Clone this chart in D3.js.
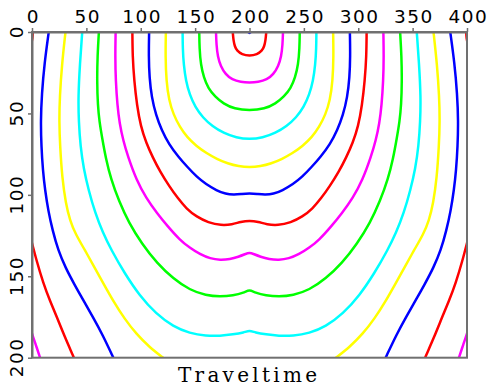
<!DOCTYPE html>
<html>
<head>
<meta charset="utf-8">
<script src="https://cdn.jsdelivr.net/npm/d3@7/dist/d3.min.js"></script>
<style>
  html, body { margin: 0; padding: 0; background: #ffffff; }
  svg { display: block; }
</style>
</head>
<body>
<svg id="chart" width="487" height="387"></svg>
<script>
// ---------------- DATA ----------------
const xTicks = [0, 50, 100, 150, 200, 250, 300, 350, 400];
const yTicks = [0, 50, 100, 150, 200];
const xTitle = "Traveltime";

// colour of each contour level (level index modulo 6)
const levelColors = ["#0000ff", "#ff0000", "#ff00ff", "#00ff00", "#00ffff", "#ffff00"];

// contour polylines [x, depth]
const c0 = [[198.8,0],[200,0.9],[201.2,0]];
const c1 = [[184.6,0],[185.2,5],[186.5,9],[188.5,11.5],[193,13.8],[200,14.7],[207,13.8],[211.5,11.5],[213.5,9],[214.8,5],[215.4,0]];
const c2 = [[169.2,0],[169.6,8],[170.8,15],[173.5,21],[178,26],[184,29.3],[192,30.8],[200,31.1],[208,30.8],[216,29.3],[222,26],[226.5,21],[229.2,15],[230.4,8],[230.8,0]];
const c3 = [[153.8,0],[154,10],[155.2,20],[158,28],[162,34.5],[168.3,39.7],[176,44],[186,47.2],[200,48.3],[214,47.2],[224,44],[231.7,39.7],[238,34.5],[242,28],[244.8,20],[246,10],[246.2,0]];
const c4 = [[138.5,0],[138.6,10],[139.5,20],[141.5,30],[145,38.5],[150,46],[157,52.5],[166,58],[176,62],[188,65],[200,65.9],[212,65],[224,62],[234,58],[243,52.5],[250,46],[255,38.5],[258.5,30],[260.5,20],[261.4,10],[261.5,0]];
const c5 = [[123.1,0],[122.7,15],[123.5,30],[126,42],[130,50.5],[136,58.5],[142.5,64.5],[151,70],[160.6,74.5],[170,78],[180,80.8],[190,82.5],[200,83.1],[210,82.5],[220,80.8],[230,78],[239.4,74.5],[249,70],[257.5,64.5],[264,58.5],[270,50.5],[274,42],[276.5,30],[277.3,15],[276.9,0]];
const c6 = [[107.7,0],[107.3,15],[108,28],[110,40],[114,51],[119.2,60.2],[126,69],[134.6,76.6],[143,83],[151.4,88.9],[160,93.5],[169.8,97.3],[178,99.5],[186,99.9],[193,99.4],[200,99],[207,99.4],[214,99.9],[222,99.5],[230.2,97.3],[240,93.5],[248.6,88.9],[257,83],[265.4,76.6],[274,69],[280.8,60.2],[286,51],[290,40],[292,28],[292.7,15],[292.3,0]];
const c7 = [[92.3,0],[92.5,15],[94,30],[96.5,45],[100,58],[105,68],[111,77],[118,86],[126,94.5],[134,102],[142,108.5],[151.4,113.5],[162,117],[174,118.8],[184,118.2],[192,116.5],[200,115.8],[208,116.5],[216,118.2],[226,118.8],[238,117],[248.6,113.5],[258,108.5],[266,102],[274,94.5],[282,86],[289,77],[295,68],[300,58],[303.5,45],[306,30],[307.5,15],[307.7,0]];
const c8 = [[76.9,0],[76.5,15],[77,30],[78.5,45],[80.5,56],[84,67],[88,76],[96,90.9],[105,102],[115,111.3],[125,119.5],[136,127.7],[145,132.5],[154.5,136.5],[164,139.2],[173,140],[182,139.5],[190,138],[196,136.4],[200,135.3],[204,136.4],[210,138],[218,139.5],[227,140],[236,139.2],[245.5,136.5],[255,132.5],[264,127.7],[275,119.5],[285,111.3],[295,102],[304,90.9],[312,76],[316,67],[319.5,56],[321.5,45],[323,30],[323.5,15],[323.1,0]];
const c9 = [[61.5,0],[60.2,15],[59.8,30],[60.5,45],[62,55],[64.5,65],[68,78],[72.5,90],[80,104],[89,117],[101,130],[115,142],[130,151.5],[145,158.4],[160,161.8],[173,162.5],[185,161.8],[195,160],[200,158.2],[205,160],[215,161.8],[227,162.5],[240,161.8],[255,158.4],[270,151.5],[285,142],[299,130],[311,117],[320,104],[327.5,90],[332,78],[335.5,65],[338,55],[339.5,45],[340.2,30],[339.8,15],[338.5,0]];
const c10 = [[46.2,0],[44,20],[42.5,40],[43,55],[44.5,70],[47.5,84],[52,97],[58,111],[65,123],[73,134],[85,148],[99,162],[114,173],[130,181],[145,185],[160,186.6],[173,186.6],[185,185.7],[195,184.5],[200,183.2],[205,184.5],[215,185.7],[227,186.6],[240,186.6],[255,185],[270,181],[286,173],[301,162],[315,148],[327,134],[335,123],[342,111],[348,97],[352.5,84],[355.5,70],[357,55],[357.5,40],[356,20],[353.8,0]];
const c11a = [[30.8,0],[27.5,20],[25.5,40],[25,55],[25.8,70],[27.8,90],[31,105],[35,116],[40,124],[48.7,134],[57,144],[65.6,154.3],[75,165.5],[85,176],[96,185.5],[108,193.5],[120.5,200],[126,203]];
const c11b = [[369.2,0],[372.5,20],[374.5,40],[375,55],[374.2,70],[372.2,90],[369,105],[365,116],[360,124],[351.3,134],[343,144],[334.4,154.3],[325,165.5],[315,176],[304,185.5],[292,193.5],[279.5,200],[274,203]];
const c12a = [[15.4,0],[11.5,19],[9,38],[8,55],[8.6,70],[10,85],[12,97],[15,110],[19,122],[24,134],[31,145],[39,155],[47,164.5],[56,175],[65,186],[74.8,200],[77,203]];
const c12b = [[384.6,0],[388.5,19],[391,38],[392,55],[391.4,70],[390,85],[388,97],[385,110],[381,122],[376,134],[369,145],[361,155],[353,164.5],[344,175],[335,186],[325.2,200],[323,203]];
const c13a = [[0.8,-1],[0.5,4],[-1,8]];
const c13b = [[-3,122],[0,129.5],[4,140],[10.4,154.3],[16.5,165],[22.7,174.8],[30,187],[38.6,200],[41,204]];
const c13c = [[399.2,-1],[399.5,4],[401,8]];
const c13d = [[403,122],[400,129.5],[396,140],[389.6,154.3],[383.5,165],[377.3,174.8],[370,187],[361.4,200],[359,204]];
const c14a = [[-2,180],[0,185.5],[3.5,192],[7.4,200],[9,203]];
const c14b = [[402,180],[400,185.5],[396.5,192],[392.6,200],[391,203]];

const contourLevels = [0,1,2,3,4,5,6,7,8,9,10,11,11,12,12,13,13,13,13,14,14];
const contourLines  = [c0,c1,c2,c3,c4,c5,c6,c7,c8,c9,c10,c11a,c11b,c12a,c12b,c13a,c13b,c13c,c13d,c14a,c14b];

// ---------------- LAYOUT ----------------
const plot = { left: 32, right: 467, top: 32, bottom: 357.7 };

const svg = d3.select("#chart");
const x = d3.scaleLinear().domain([0, 400]).range([plot.left, plot.right]);
const y = d3.scaleLinear().domain([0, 200]).range([plot.top, plot.bottom]);

svg.append("defs").append("clipPath").attr("id", "clip")
  .append("rect")
  .attr("x", plot.left).attr("y", plot.top)
  .attr("width", plot.right - plot.left).attr("height", plot.bottom - plot.top);

const line = d3.line()
  .x(d => x(d[0]))
  .y(d => y(d[1]))
  .curve(d3.curveBasis);

const g = svg.append("g").attr("clip-path", "url(#clip)");
g.selectAll("path.contour")
  .data(contourLines.map((pts, i) => ({ pts, level: contourLevels[i] })))
  .join("path")
  .attr("class", "contour")
  .attr("d", d => line(d.pts))
  .attr("fill", "none")
  .attr("stroke", d => levelColors[d.level % 6])
  .attr("stroke-width", 2.5)
  .attr("stroke-linejoin", "round")
  .attr("stroke-linecap", "round");

// frame
const axisColor = "#707070";
svg.append("rect")
  .attr("x", plot.left).attr("y", plot.top)
  .attr("width", plot.right - plot.left).attr("height", plot.bottom - plot.top)
  .attr("fill", "none").attr("stroke", axisColor).attr("stroke-width", 2);

const tickFont = t => t
  .attr("fill", "#000")
  .style("font-family", "'DejaVu Sans', sans-serif")
  .style("font-size", "18.5px")
  .style("letter-spacing", "1.5px");

// top axis
const xAxis = svg.append("g")
  .attr("transform", `translate(0,${plot.top})`)
  .call(d3.axisTop(x).tickValues(xTicks).tickFormat(d3.format("d")).tickSize(4).tickSizeOuter(0).tickPadding(5));
xAxis.select(".domain").attr("stroke", axisColor).attr("stroke-width", 2);
xAxis.selectAll(".tick line").attr("stroke", axisColor).attr("stroke-width", 1.5);
xAxis.selectAll(".tick text").attr("x", 0.8).call(tickFont);

// left axis (rotated labels)
const yAxis = svg.append("g")
  .attr("transform", `translate(${plot.left},0)`)
  .call(d3.axisLeft(y).tickValues(yTicks).tickFormat(d3.format("d")).tickSize(4).tickSizeOuter(0));
yAxis.select(".domain").attr("stroke", axisColor).attr("stroke-width", 2);
yAxis.selectAll(".tick line").attr("stroke", axisColor).attr("stroke-width", 1.5);
yAxis.selectAll(".tick text")
  .attr("x", null).attr("dy", null)
  .attr("text-anchor", "middle")
  .attr("transform", "translate(-9,0) rotate(-90) translate(0.8,0)")
  .call(tickFont);

// title
svg.append("text")
  .attr("x", (plot.left + plot.right) / 2 - 2)
  .attr("y", 381.5)
  .attr("text-anchor", "middle")
  .attr("textLength", 139)
  .attr("lengthAdjust", "spacing")
  .style("font-family", "'DejaVu Serif', serif")
  .style("font-size", "20px")
  .attr("fill", "#000")
  .text(xTitle);
</script>
</body>
</html>
